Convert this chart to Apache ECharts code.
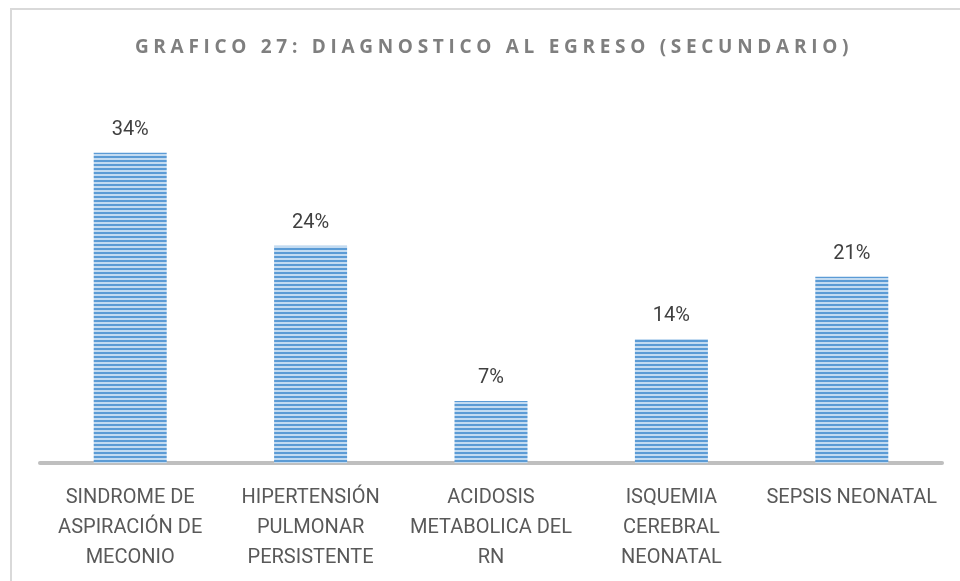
<!DOCTYPE html>
<html>
<head>
<meta charset="utf-8">
<script src="https://cdn.jsdelivr.net/npm/echarts@6/dist/echarts.min.js"></script>
<style>
  html, body { margin: 0; padding: 0; background: #fff; }
  #wrap { position: relative; width: 960px; height: 581px; overflow: hidden; }
  #frame {
    position: absolute; left: 10px; top: 8px; right: -10px; bottom: -10px;
    border-top: 2px solid #d9d9d9; border-left: 2px solid #d9d9d9;
  }
  #title {
    position: absolute; left: 14px; top: 33px; width: 960px; text-align: center;
    font-family: "Open Sans", "Noto Sans", sans-serif; font-weight: bold;
    font-size: 19px; letter-spacing: 4.7px; color: #7f7f7f;
  }
  #chart { position: absolute; left: 0; top: 0; width: 960px; height: 581px; }
</style>
</head>
<body>
<div id="wrap">
  <div id="frame"></div>
  <div id="chart"></div>
  <div id="title">GRAFICO 27: DIAGNOSTICO AL EGRESO (SECUNDARIO)</div>
</div>
<script>
  // categorias y valores (%)
  var categories = [
    'SINDROME DE\nASPIRACIÓN DE\nMECONIO',
    'HIPERTENSIÓN\nPULMONAR\nPERSISTENTE',
    'ACIDOSIS\nMETABOLICA DEL\nRN',
    'ISQUEMIA\nCEREBRAL\nNEONATAL',
    'SEPSIS NEONATAL'
  ];
  var values = [34.48, 24.14, 6.90, 13.79, 20.69];

  // patron de rayas horizontales para las barras
  function stripes() {
    var c = document.createElement('canvas');
    c.width = 4; c.height = 4;
    var ctx = c.getContext('2d');
    ctx.fillStyle = '#c3dbf1';
    ctx.fillRect(0, 0, 4, 4);
    ctx.fillStyle = '#5b9bd5';
    ctx.fillRect(0, 0, 4, 2);
    return c;
  }

  var chart = echarts.init(document.getElementById('chart'));
  chart.setOption({
    animation: false,
    grid: { left: 40, right: 18, top: 103, bottom: 118 },
    xAxis: {
      type: 'category',
      data: categories,
      axisTick: { show: false },
      axisLine: { lineStyle: { color: '#bfbfbf', width: 4 } },
      axisLabel: {
        interval: 0,
        margin: 20,
        fontSize: 20,
        lineHeight: 30,
        color: '#595959',
        fontFamily: 'Roboto, "Open Sans", sans-serif'
      }
    },
    yAxis: {
      type: 'value',
      min: 0,
      max: 40,
      show: false,
      splitLine: { show: false }
    },
    series: [{
      type: 'bar',
      data: values,
      barWidth: 73,
      itemStyle: { color: { image: stripes(), repeat: 'repeat' } },
      label: {
        show: true,
        position: 'top',
        distance: 13,
        fontSize: 20,
        color: '#404040',
        fontFamily: 'Roboto, "Open Sans", sans-serif',
        formatter: function (p) { return Math.round(p.value) + '%'; }
      }
    }]
  });
</script>
</body>
</html>
